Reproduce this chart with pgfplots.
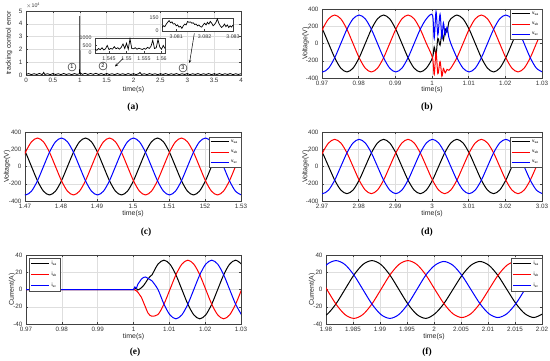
\documentclass[border=0pt]{standalone}
\usepackage{pgfplots}
\pgfplotsset{compat=1.18}
\usepackage{pgfplotstable}
\usetikzlibrary{arrows.meta}
\usepackage{fontspec}
\setmainfont{Liberation Sans}
\newfontfamily\capfont{Liberation Serif}

\pgfplotstableread{
t e
0 0.05
0.05 0.11
0.1 0.03
0.15 0.1
0.2 0.04
0.25 0.12
0.3 0.03
0.33 0.2
0.35 0.04
0.4 0.1
0.45 0.03
0.5 0.11
0.55 0.04
0.6 0.1
0.65 0.03
0.7 0.12
0.75 0.04
0.8 0.1
0.85 0.03
0.9 0.11
0.95 0.05
0.998 0.1
1.0 4.6
1.003 0.3
1.01 0.15
1.05 0.05
1.1 0.13
1.15 0.04
1.2 0.12
1.25 0.05
1.3 0.13
1.35 0.04
1.4 0.11
1.45 0.03
1.5 0.12
1.55 0.04
1.6 0.1
1.65 0.03
1.7 0.11
1.75 0.04
1.8 0.1
1.85 0.03
1.9 0.11
1.95 0.04
2.0 0.1
2.05 0.03
2.1 0.11
2.12 0.2
2.15 0.04
2.2 0.1
2.25 0.03
2.3 0.11
2.35 0.04
2.4 0.1
2.45 0.03
2.5 0.1
2.55 0.04
2.6 0.11
2.65 0.03
2.7 0.1
2.75 0.04
2.8 0.11
2.85 0.03
2.9 0.1
2.95 0.04
3.0 0.11
3.05 0.03
3.1 0.1
3.15 0.04
3.2 0.11
3.25 0.03
3.3 0.1
3.35 0.04
3.4 0.11
3.45 0.03
3.5 0.1
3.55 0.04
3.6 0.11
3.65 0.03
3.7 0.1
3.75 0.04
3.8 0.11
3.85 0.03
3.9 0.1
3.95 0.04
4.0 0.1
}\Adata

\pgfplotstableread{
t e
1.541 250
1.5415 180
1.542 300
1.5425 220
1.543 350
1.5435 200
1.544 280
1.5445 500
1.545 230
1.5455 300
1.546 260
1.5465 420
1.547 280
1.5475 350
1.548 250
1.5485 380
1.549 600
1.5495 300
1.55 650
1.5505 250
1.551 950
1.5515 300
1.552 280
1.5525 350
1.553 250
1.5535 320
1.554 280
1.5545 230
1.555 300
1.5555 250
1.556 380
1.5565 300
1.557 450
1.5575 850
1.558 300
1.5585 350
1.559 900
1.5595 400
1.56 250
1.5605 500
1.561 300
}\AinA

\pgfplotstableread{
t e
3.0805 40
3.08055 60
3.0806 50
3.08065 80
3.0807 100
3.08075 120
3.0808 95
3.08085 105
3.0809 80
3.08095 85
3.081 60
3.08105 70
3.0811 45
3.08115 55
3.0812 30
3.08125 60
3.0813 80
3.08135 70
3.0814 110
3.08145 100
3.0815 105
3.08155 90
3.0816 95
3.08165 75
3.0817 80
3.08175 60
3.0818 70
3.08185 50
3.0819 45
3.08195 70
3.082 90
3.08205 70
3.0821 100
3.08215 80
3.0822 110
3.08225 90
3.0823 60
3.08235 75
3.0824 100
3.08245 140
3.0825 90
3.08255 60
3.0826 40
3.08265 55
3.0827 80
3.08275 50
3.0828 70
3.08285 40
3.0829 60
3.08295 45
3.083 70
}\AinB

\pgfplotstableread{
t a b c
0.968467 286 0 -286
0.970133 165 165 -330
0.971800 0 286 -286
0.973467 -165 330 -165
0.975133 -286 286 0
0.976800 -330 165 165
0.978467 -286 0 286
0.980133 -165 -165 330
0.981800 0 -286 286
0.983467 165 -330 165
0.985133 286 -286 0
0.986800 330 -165 -165
0.988467 286 0 -286
0.990133 165 165 -330
0.991800 0 286 -286
0.993467 -165 330 -165
0.995133 -286 286 0
0.996800 -330 165 165
0.998467 -286 0 286
1.000133 -165 -165 330
1.000600 -40 -360 60
1.001100 -130 -100 370
1.001600 60 -350 100
1.002200 -20 -210 340
1.002700 130 -380 60
1.003100 40 -290 240
1.003600 170 -340 100
1.004100 130 -300 190
1.004600 250 -310 70
1.005133 286 -286 0
1.006800 330 -165 -165
1.008467 286 0 -286
1.010133 165 165 -330
1.011800 0 286 -286
1.013467 -165 330 -165
1.015133 -286 286 0
1.016800 -330 165 165
1.018467 -286 0 286
1.020133 -165 -165 330
1.021800 0 -286 286
1.023467 165 -330 165
1.025133 286 -286 0
1.026800 330 -165 -165
1.028467 286 0 -286
1.030133 165 165 -330
}\Bdata

\pgfplotstableread{
t a b c
1.468467 286 0 -286
1.470133 165 165 -330
1.471800 0 286 -286
1.473467 -165 330 -165
1.475133 -286 286 0
1.476800 -330 165 165
1.478467 -286 0 286
1.480133 -165 -165 330
1.481800 0 -286 286
1.483467 165 -330 165
1.485133 286 -286 0
1.486800 330 -165 -165
1.488467 286 0 -286
1.490133 165 165 -330
1.491800 0 286 -286
1.493467 -165 330 -165
1.495133 -286 286 0
1.496800 -330 165 165
1.498467 -286 0 286
1.500133 -165 -165 330
1.501800 0 -286 286
1.503467 165 -330 165
1.505133 286 -286 0
1.506800 330 -165 -165
1.508467 286 0 -286
1.510133 165 165 -330
1.511800 0 286 -286
1.513467 -165 330 -165
1.515133 -286 286 0
1.516800 -330 165 165
1.518467 -286 0 286
1.520133 -165 -165 330
1.521800 0 -286 286
1.523467 165 -330 165
1.525133 286 -286 0
1.526800 330 -165 -165
1.528467 286 0 -286
1.530133 165 165 -330
}\Cdata

\pgfplotstableread{
t a b c
2.968467 273 0 -273
2.970133 158 158 -315
2.971800 0 273 -273
2.973467 -158 315 -158
2.975133 -273 273 0
2.976800 -315 158 158
2.978467 -273 0 273
2.980133 -158 -158 315
2.981800 0 -273 273
2.983467 158 -315 158
2.985133 273 -273 0
2.986800 315 -158 -158
2.988467 273 0 -273
2.990133 158 158 -315
2.991800 0 273 -273
2.993467 -158 315 -158
2.995133 -273 273 0
2.996800 -315 158 158
2.998467 -273 0 273
3.000133 -158 -158 315
3.001800 0 -273 273
3.003467 158 -315 158
3.005133 273 -273 0
3.006800 315 -158 -158
3.008467 273 0 -273
3.010133 158 158 -315
3.011800 0 273 -273
3.013467 -158 315 -158
3.015133 -273 273 0
3.016800 -315 158 158
3.018467 -273 0 273
3.020133 -158 -158 315
3.021800 0 -273 273
3.023467 158 -315 158
3.025133 273 -273 0
3.026800 315 -158 -158
3.028467 273 0 -273
3.030133 158 158 -315
}\Ddata

\pgfplotstableread{
t a b c
0.970 0 0 0
0.990 0 0 0
0.995 0 0 0
0.998 0 0 0
0.999 0 0 0
0.9995 0 0 0
1.0000 0 0 0
1.0004 0.8 -0.6 3
1.0008 1.2 -1.5 1.5
1.0012 -0.5 -3 6
1.0017 0.5 -6 9
1.0022 2 -9 12
1.0028 4.5 -15 14
1.0034 8 -21 14.5
1.0040 12 -27 13
1.0046 15 -30 11.5
1.005167 17 -31 10
1.006833 29.4 -29 0
1.008500 34 -17 -17
1.010167 29.4 0 -29.4
1.011833 17 17 -34
1.013500 0 29.4 -29.4
1.015167 -17 34 -17
1.016833 -29.4 29.4 0
1.018500 -34 17 17
1.020167 -29.4 0 29.4
1.021833 -17 -17 34
1.023500 0 -29.4 29.4
1.025167 17 -34 17
1.026833 29.4 -29.4 0
1.028500 34 -17 -17
1.030167 29.4 0 -29.4
}\Edata

\pgfplotstableread{
t a b c
1.978500 -33.5 16.8 16.8
1.980167 -29.0 0 29.0
1.981833 -16.8 -16.8 33.5
1.983500 0 -29.0 29.0
1.985167 16.8 -33.5 16.8
1.986833 29.0 -29.0 0
1.988500 33.5 -16.8 -16.8
1.990167 29.0 0 -29.0
1.991833 16.8 16.8 -33.5
1.993500 0 29.0 -29.0
1.995167 -16.8 33.5 -16.8
1.996833 -29.0 29.0 0
1.998500 -33.5 16.8 16.8
2.000167 -28.1 0 28.1
2.001833 -16.3 -16.3 32.5
2.003500 0 -28.1 28.1
2.005167 16.3 -32.5 16.3
2.006833 28.1 -28.1 0
2.008500 32.5 -16.3 -16.3
2.010167 28.1 0 -28.1
2.011833 16.3 16.3 -32.5
2.013500 0 28.1 -28.1
2.015167 -16.3 32.5 -16.3
2.016833 -28.1 28.1 0
2.018500 -32.5 16.3 16.3
2.020167 -28.1 0 28.1
}\Fdata

\pgfplotsset{
  xlabel shift/.initial=-13bp,
  ylabel shift/.initial=-14bp,
  ml/.style={
    scale only axis,
    anchor=north west,
    axis line style={draw=black!75, line width=0.4bp},
    grid=major,
    major grid style={draw=black!13, line width=0.35bp},
    tick align=inside,
    major tick length=2bp,
    tick pos=both,
    tick style={draw=black!75, line width=0.35bp},
    tick label style={font=\fontsize{6.3}{7}\selectfont, text=black!80},
    xlabel={time(s)},
    every axis x label/.style={at={([yshift=\pgfkeysvalueof{/pgfplots/xlabel shift}]rel axis cs:0.5,0)}, anchor=center, font=\fontsize{7}{8}\selectfont, text=black!85},
    every axis y label/.style={at={([xshift=\pgfkeysvalueof{/pgfplots/ylabel shift}]rel axis cs:0,0.5)}, anchor=center, rotate=90, font=\fontsize{7}{8}\selectfont, text=black!85},
    legend style={font=\fontsize{4.8}{5}\selectfont, draw=black!70, line width=0.35bp,
      fill=white, inner xsep=1.2bp, inner ysep=0.8bp, row sep=2.2bp,
      cells={anchor=west}, at={(1,1)}, anchor=north east},
    legend cell align=left,
    legend image code/.code={\draw[#1, line width=1bp] (0bp,0bp) -- (18bp,0bp);},
  },
  vt/.style={ymin=-400, ymax=400, ytick={-400,-200,0,200,400},
    yticklabels={-400,-200,0,200,400}, ylabel={Voltage(V)}},
  cu/.style={ymin=-40, ymax=40, ytick={-40,-20,0,20,40},
    yticklabels={-40,-20,0,20,40}, ylabel={Current(A)}},
  ins/.style={scale only axis, anchor=north west, axis background/.style={fill=white},
    axis line style={draw=black!75, line width=0.4bp},
    tick align=inside, major tick length=1.5bp, tick pos=both,
    tick style={draw=black!75, line width=0.3bp},
    tick label style={font=\fontsize{5.3}{6}\selectfont, text=black!80},
    xtick pos=bottom, ytick pos=left},
}

\begin{document}
\begin{tikzpicture}
\useasboundingbox (0,0) rectangle (550bp,361bp);

% (a)
\begin{axis}[ml, at={(26bp,350bp)}, width=215bp, height=64bp,
  xlabel shift=-14.5bp, ylabel shift=-17bp,
  xmin=0, xmax=4, ymin=0, ymax=5,
  xtick={0,0.5,1,1.5,2,2.5,3,3.5,4}, xticklabels={0,0.5,1,1.5,2,2.5,3,3.5,4},
  ytick={0,1,2,3,4,5}, yticklabels={0,1,2,3,4,5},
  ylabel={tracking control error}]
\addplot[black, line width=0.8bp] table[x=t,y=e]{\Adata};
\end{axis}
\node[anchor=west, font=\fontsize{5.3}{6}\selectfont, text=black!80, inner sep=0pt] at (26bp,355.5bp) {$\times$10\textsuperscript{4}};

\begin{axis}[ins, at={(95bp,323bp)}, width=70bp, height=15bp,
  xmin=1.541, xmax=1.561, ymin=0, ymax=1000,
  xtick={1.545,1.55,1.555,1.56}, xticklabels={1.545,1.55,1.555,1.56},
  ytick={0,500,1000}, yticklabels={0,500,1000}]
\addplot[black, line width=0.7bp] table[x=t,y=e]{\AinA};
\end{axis}

\begin{axis}[ins, at={(162bp,343bp)}, width=71bp, height=13bp,
  xmin=3.0805, xmax=3.083, ymin=0, ymax=150,
  xtick={3.081,3.082,3.083}, xticklabels={3.081,3.082,3.083},
  ytick={0,150}, yticklabels={0,150}]
\addplot[black, line width=0.7bp] table[x=t,y=e]{\AinB};
\end{axis}

\begin{scope}[every node/.style={circle, draw=black, line width=0.4bp, inner sep=0pt, minimum size=8bp, font=\fontsize{5.5}{6}\selectfont}]
\node at (72bp,294bp) {1};
\node at (103bp,295bp) {2};
\node at (183bp,293bp) {3};
\end{scope}
\draw[black, line width=0.5bp, -{Stealth[length=3bp,width=2.5bp]}] (123bp,302.5bp) -- (115bp,294.5bp);
\draw[black, line width=0.5bp, -{Stealth[length=3bp,width=2.5bp]}] (194.3bp,327.5bp) -- (189.5bp,298bp);

% (b)
\begin{axis}[ml, vt, at={(322bp,352bp)}, width=220bp, height=69bp,
  xlabel shift=-12bp, ylabel shift=-16.5bp,
  xmin=0.97, xmax=1.03,
  xtick={0.97,0.98,0.99,1,1.01,1.02,1.03},
  xticklabels={0.97,0.98,0.99,1,1.01,1.02,1.03}]
\addplot[black, smooth, line width=1bp] table[x=t,y=a]{\Bdata};
\addplot[red, smooth, line width=1bp] table[x=t,y=b]{\Bdata};
\addplot[blue, smooth, line width=1bp] table[x=t,y=c]{\Bdata};
\legend{v\textsubscript{sa},v\textsubscript{sb},v\textsubscript{sc}}
\end{axis}

% (c)
\begin{axis}[ml, vt, at={(25bp,229bp)}, width=216bp, height=69bp,
  ylabel shift=-18bp,
  xmin=1.47, xmax=1.53,
  xtick={1.47,1.48,1.49,1.5,1.51,1.52,1.53},
  xticklabels={1.47,1.48,1.49,1.5,1.51,152,1.53},
  legend style={yshift=-5bp}]
\addplot[black, smooth, line width=1bp] table[x=t,y=a]{\Cdata};
\addplot[red, smooth, line width=1bp] table[x=t,y=b]{\Cdata};
\addplot[blue, smooth, line width=1bp] table[x=t,y=c]{\Cdata};
\legend{v\textsubscript{sa},v\textsubscript{sb},v\textsubscript{sc}}
\end{axis}

% (d)
\begin{axis}[ml, vt, at={(322bp,229bp)}, width=220bp, height=69bp,
  ylabel shift=-16.5bp,
  xmin=2.97, xmax=3.03,
  xtick={2.97,2.98,2.99,3,3.01,3.02,3.03},
  xticklabels={2.97,2.98,2.99,3,3.01,3.02,3.03},
  legend style={yshift=-5bp}]
\addplot[black, smooth, line width=1bp] table[x=t,y=a]{\Ddata};
\addplot[red, smooth, line width=1bp] table[x=t,y=b]{\Ddata};
\addplot[blue, smooth, line width=1bp] table[x=t,y=c]{\Ddata};
\legend{v\textsubscript{sa},v\textsubscript{sb},v\textsubscript{sc}}
\end{axis}

% (e)
\begin{axis}[ml, cu, at={(26bp,106bp)}, width=215bp, height=69bp,
  xmin=0.97, xmax=1.03,
  xtick={0.97,0.98,0.99,1,1.01,1.02,1.03},
  xticklabels={0.97,0.98,0.99,1,1.01,1.02,1.03},
  legend style={at={(0.015,0.96)}, anchor=north west}]
\addplot[black, smooth, line width=1bp] table[x=t,y=a]{\Edata};
\addplot[red, smooth, line width=1bp] table[x=t,y=b]{\Edata};
\addplot[blue, smooth, line width=1bp] table[x=t,y=c]{\Edata};
\legend{i\textsubscript{sa},i\textsubscript{sb},i\textsubscript{sc}}
\end{axis}

% (f)
\begin{axis}[ml, cu, at={(326bp,106bp)}, width=216bp, height=69bp,
  xmin=1.98, xmax=2.02,
  xtick={1.98,1.985,1.99,1.995,2,2.005,2.01,2.015,2.02},
  xticklabels={1.98,1.985,1.99,1.995,2,2.005,2.01,2.015,2.02},
  legend style={yshift=-3bp}]
\addplot[black, smooth, line width=1bp] table[x=t,y=a]{\Fdata};
\addplot[red, smooth, line width=1bp] table[x=t,y=b]{\Fdata};
\addplot[blue, smooth, line width=1bp] table[x=t,y=c]{\Fdata};
\legend{i\textsubscript{sa},i\textsubscript{sb},i\textsubscript{sc}}
\end{axis}

% captions
\begin{scope}[every node/.style={font=\capfont\bfseries\fontsize{9.5}{10}\selectfont}]
\node at (133bp,254bp) {(a)};
\node at (427bp,254bp) {(b)};
\node at (146bp,129bp) {(c)};
\node at (427bp,129bp) {(d)};
\node at (135bp,9bp) {(e)};
\node at (427bp,9bp) {(f)};
\end{scope}
\end{tikzpicture}
\end{document}
